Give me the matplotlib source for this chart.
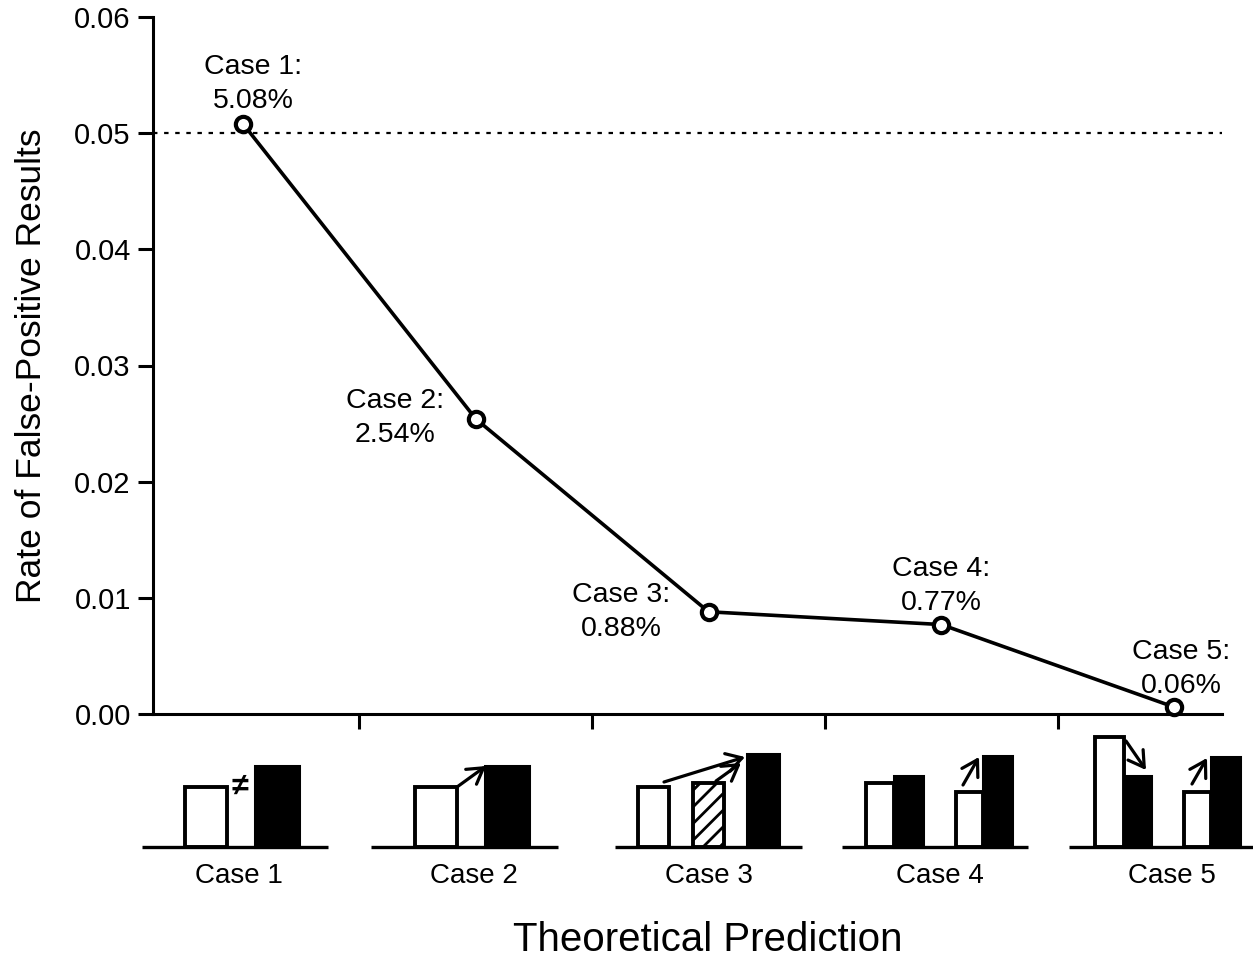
import matplotlib
matplotlib.use("Agg")
import matplotlib.pyplot as plt
from matplotlib.patches import Rectangle, FancyArrowPatch
from matplotlib.lines import Line2D

plt.rcParams['font.family'] = ['Liberation Sans', 'DejaVu Sans']
plt.rcParams['hatch.linewidth'] = 2.0

# ---- data ----
cases = ["Case 1", "Case 2", "Case 3", "Case 4", "Case 5"]
rates = [0.0508, 0.0254, 0.0088, 0.0077, 0.0006]
rate_labels = ["5.08%", "2.54%", "0.88%", "0.77%", "0.06%"]
threshold = 0.05
yticks = [0.00, 0.01, 0.02, 0.03, 0.04, 0.05, 0.06]

# label offsets in pixels (center of 2-line block relative to point)
label_offsets = [(10, 40), (-81, 1), (-87, 0), (0, 39), (7, 38)]

W, H = 1253, 957
fig = plt.figure(figsize=(W / 100, H / 100), dpi=100)

L, R, T, B = 153, 1222, 17, 714
ax = fig.add_axes([L / W, 1 - B / H, (R - L) / W, (B - T) / H])
x = list(range(1, len(cases) + 1))
ax.set_xlim(0.613, 5.206)
ax.set_ylim(0, 0.06)

ax.axhline(threshold, color='black', lw=1.6, ls=(0, (2, 3)), zorder=1)
ax.plot(x, rates, color='black', lw=2.6, marker='o', markersize=11,
        markerfacecolor='white', markeredgecolor='black', markeredgewidth=3,
        zorder=3, clip_on=False)

for xi, yi, c, lab, off in zip(x, rates, cases, rate_labels, label_offsets):
    ax.annotate(f"{c}:\n{lab}", (xi, yi), xytext=off, textcoords='offset pixels',
                ha='center', va='center', fontsize=20.5, linespacing=1.4)

ax.set_yticks(yticks)
ax.set_yticklabels([f"{v:.2f}" for v in yticks])
ax.set_xticks([1.5, 2.5, 3.5, 4.5])
ax.set_xticklabels([])
ax.tick_params(axis='both', direction='out', length=11, width=2.2, labelsize=21, pad=5)
for s in ['top', 'right']:
    ax.spines[s].set_visible(False)
for s in ['left', 'bottom']:
    ax.spines[s].set_linewidth(2.2)
ax.set_ylabel("Rate of False-Positive Results", fontsize=25.5, labelpad=19)

# ---- schematic icons (pixel coordinate overlay) ----
ov = fig.add_axes([0, 0, 1, 1], zorder=5)
ov.set_xlim(0, W)
ov.set_ylim(H, 0)
ov.axis('off')
ov.patch.set_alpha(0)

base_y = 847
baselines = [(142, 328), (371, 558), (615, 802), (842, 1028), (1069, 1253)]
# bars: (x_left, x_right, top, style)
icon_bars = [
    [(185, 227, 787, 'w'), (255, 299, 766, 'k')],
    [(415, 457, 787, 'w'), (485, 529, 766, 'k')],
    [(638, 669, 787, 'w'), (693, 724, 783, 'h'), (747, 779, 754, 'k')],
    [(866, 894, 783, 'w'), (894, 923, 776, 'k'), (956, 983, 792, 'w'), (983, 1012, 756, 'k')],
    [(1095, 1124, 737, 'w'), (1124, 1151, 776, 'k'), (1184, 1211, 792, 'w'), (1211, 1240, 757, 'k')],
]
icon_arrows = [
    [],
    [((457, 787), (486, 766))],
    [((664, 782), (745, 757)), ((716, 781), (741, 763))],
    [((963, 785), (979, 757))],
    [((1126, 741), (1146, 770)), ((1192, 784), (1207, 758))],
]
label_x = [239, 474, 709, 940, 1172]

for bl, bars, arrs, lx, c in zip(baselines, icon_bars, icon_arrows, label_x, cases):
    for (x0, x1, top, st) in bars:
        if st == 'k':
            ov.add_patch(Rectangle((x0, top), x1 - x0, base_y - top, facecolor='black',
                                   edgecolor='black', lw=2.2, zorder=2))
        else:
            ov.add_patch(Rectangle((x0, top), x1 - x0, base_y - top, facecolor='white',
                                   edgecolor='black', lw=2.8, zorder=2,
                                   hatch='//' if st == 'h' else None))
    ov.add_line(Line2D([bl[0], bl[1]], [base_y, base_y], color='black', lw=2.4,
                       solid_capstyle='butt', zorder=3))
    for (p0, p1) in arrs:
        ov.add_patch(FancyArrowPatch(p0, p1, arrowstyle='->,head_length=0.5,head_width=0.3',
                                     mutation_scale=22, lw=2.3, color='black',
                                     shrinkA=0, shrinkB=0, zorder=4))
    ov.text(lx, 876, c, ha='center', va='center', fontsize=20)

ov.text(240, 787, "≠", ha='center', va='center', fontsize=22, fontweight='bold')
ov.text(708, 940, "Theoretical Prediction", ha='center', va='center', fontsize=29)

fig.savefig("out.png", dpi=100)
